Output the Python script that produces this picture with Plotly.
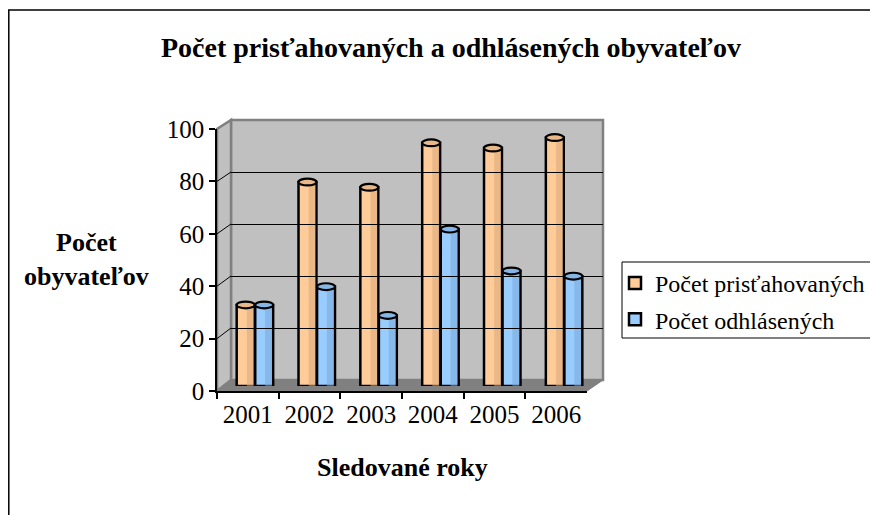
import plotly.graph_objects as go

# ---- data ----
years = ["2001", "2002", "2003", "2004", "2005", "2006"]
prist = [31, 78, 76, 93, 91, 95]
odhl = [31, 38, 27, 60, 44, 42]
y_ticks = [0, 20, 40, 60, 80, 100]
grid_vals = [20, 40, 60, 80]

title_txt = "Počet prisťahovaných a odhlásených obyvateľov"
ytitle_txt = "Počet<br>obyvateľov"
xtitle_txt = "Sledované roky"
name_a = "Počet prisťahovaných"
name_b = "Počet odhlásených"

W, H = 878, 515
OFF = 8          # page body margin
FONT = "Liberation Serif"

def px(x):
    return (x - OFF) / W

def py(y):
    return 1 - (y - OFF) / H

FX0, FX1, FY0, FY100 = 217, 587, 391, 129      # front plane
BX0, BX1, BY0, BY100 = 231, 603, 380, 120      # back wall
MX0, MX1, MY0, MY100 = 224, 595, 386, 124.5    # mid-depth (bars)
LX0, LY0, LY1 = 622, 262, 338                  # legend box

ORANGE, ORANGE_D, ORANGE_T = "#FFCC99", "#D9A678", "#E9B888"
BLUE, BLUE_D, BLUE_T = "#99CCFF", "#7AA8DA", "#86B6E6"

fig = go.Figure()

bw = 0.29
gap = 0.005
fig.add_trace(go.Bar(x=years, y=prist, name=name_a, offset=-bw - gap, width=bw,
                     marker=dict(color=ORANGE, line=dict(color="black", width=2.5)),
                     legendgroup="a", xaxis="x", yaxis="y"))
fig.add_trace(go.Bar(x=years, y=odhl, name=name_b, offset=gap, width=bw,
                     marker=dict(color=BLUE, line=dict(color="black", width=2.5)),
                     legendgroup="b", xaxis="x", yaxis="y"))
fig.add_trace(go.Bar(x=years, y=prist, offset=-bw * 0.45, width=bw * 0.38,
                     marker=dict(color=ORANGE_D, line=dict(width=0)), opacity=0.55,
                     showlegend=False, hoverinfo="skip", xaxis="x", yaxis="y"))
fig.add_trace(go.Bar(x=years, y=odhl, offset=gap + bw * 0.55, width=bw * 0.38,
                     marker=dict(color=BLUE_D, line=dict(width=0)), opacity=0.55,
                     showlegend=False, hoverinfo="skip", xaxis="x", yaxis="y"))
fig.add_trace(go.Scatter(x=years, y=prist, mode="markers", marker=dict(opacity=0),
                         showlegend=False, hoverinfo="skip", xaxis="x2", yaxis="y2"))
fig.add_trace(go.Scatter(x=years, y=prist, mode="markers", marker=dict(opacity=0),
                         showlegend=False, hoverinfo="skip", xaxis="x3", yaxis="y3"))

shapes = []
# chart border
shapes.append(dict(type="rect", xref="paper", yref="paper", x0=px(8.8), x1=px(905),
                   y0=py(10), y1=py(540), line=dict(color="black", width=1.5),
                   fillcolor="white", layer="below"))
# legend box (runs off the right edge, as in the original)
shapes.append(dict(type="rect", xref="paper", yref="paper", x0=px(LX0), x1=px(905),
                   y0=py(LY0), y1=py(LY1), line=dict(color="black", width=1),
                   fillcolor="white", layer="below"))
# back wall
shapes.append(dict(type="rect", xref="x3 domain", yref="y3 domain", x0=0, x1=1, y0=0, y1=1,
                   fillcolor="#C0C0C0", line=dict(color="#808080", width=2.5), layer="below"))
# left wall
shapes.append(dict(type="path", xref="paper", yref="paper",
                   path=f"M{px(FX0)},{py(FY0)} L{px(FX0)},{py(FY100)} L{px(BX0)},{py(BY100)} L{px(BX0)},{py(BY0)} Z",
                   fillcolor="#C0C0C0", line=dict(color="#808080", width=2.5), layer="below"))
# floor
shapes.append(dict(type="path", xref="paper", yref="paper",
                   path=f"M{px(FX0)},{py(FY0)} L{px(FX1)},{py(FY0)} L{px(BX1)},{py(BY0)} L{px(BX0)},{py(BY0)} Z",
                   fillcolor="#808080", line=dict(color="#808080", width=1), layer="below"))
# left-wall grid diagonals
for v in grid_vals:
    yf = FY0 + (FY100 - FY0) * v / 100
    yb = BY0 + (BY100 - BY0) * v / 100
    shapes.append(dict(type="line", xref="paper", yref="paper",
                       x0=px(FX0), y0=py(yf), x1=px(BX0), y1=py(yb),
                       line=dict(color="black", width=1)))
# cylinder tops (ellipses at each bar's value)
for i, (a, b) in enumerate(zip(prist, odhl)):
    shapes.append(dict(type="circle", xref="x", yref="y",
                       x0=i - bw - gap, x1=i - gap, y0=a - 1.3, y1=a + 1.3,
                       fillcolor=ORANGE_T, line=dict(color="black", width=2.2)))
    shapes.append(dict(type="circle", xref="x", yref="y",
                       x0=i + gap, x1=i + gap + bw, y0=b - 1.3, y1=b + 1.3,
                       fillcolor=BLUE_T, line=dict(color="black", width=2.2)))

fig.update_layout(
    template="none",
    width=W, height=H,
    autosize=False,
    margin=dict(l=0, r=0, t=0, b=0, pad=0, autoexpand=False),
    paper_bgcolor="white",
    plot_bgcolor="rgba(0,0,0,0)",
    barmode="overlay",
    font=dict(family=FONT, color="black"),
    showlegend=True,
    legend=dict(x=px(LX0 - 7), y=py(LY0 - 1), xanchor="left", yanchor="top",
                borderwidth=0, bgcolor="rgba(0,0,0,0)",
                font=dict(family=FONT, size=24), tracegroupgap=2,
                itemwidth=30),
    shapes=shapes,
    xaxis=dict(domain=[px(MX0), px(MX1)], type="category", visible=False,
               anchor="y", range=[-0.5, 5.5], automargin=False),
    yaxis=dict(domain=[py(MY0), py(MY100)], range=[0, 100], visible=False, anchor="x",
               automargin=False),
    xaxis2=dict(domain=[px(FX0), px(FX1)], type="category", anchor="y2", range=[-0.5, 5.5],
                showline=True, linecolor="black", linewidth=1.5, ticks="outside",
                tickson="boundaries", ticklen=6, tickcolor="black", tickwidth=1.5,
                showgrid=False, zeroline=False, automargin=False, tickangle=0,
                tickfont=dict(size=25, family=FONT)),
    yaxis2=dict(domain=[py(FY0), py(FY100)], range=[0, 100], anchor="x2",
                tickvals=y_ticks, showline=True, linecolor="black", linewidth=1.5,
                ticks="outside", ticklen=6, tickcolor="black", tickwidth=1.5,
                showgrid=False, zeroline=False, automargin=False,
                tickfont=dict(size=25, family=FONT)),
    xaxis3=dict(domain=[px(BX0), px(BX1)], type="category", anchor="y3", visible=False,
                range=[-0.5, 5.5], automargin=False),
    yaxis3=dict(domain=[py(BY0), py(BY100)], range=[0, 100], anchor="x3",
                tickvals=grid_vals, showticklabels=False, ticks="", showline=False,
                showgrid=True, gridcolor="black", gridwidth=1, zeroline=False,
                automargin=False),
    annotations=[
        dict(text=f"<b>{title_txt}</b>", xref="paper", yref="paper", x=px(451), y=py(48),
             showarrow=False, font=dict(size=28, family=FONT), xanchor="center", yanchor="middle"),
        dict(text=f"<b>{ytitle_txt}</b>", xref="paper", yref="paper", x=px(86), y=py(260),
             showarrow=False, font=dict(size=26, family=FONT), xanchor="center", yanchor="middle"),
        dict(text=f"<b>{xtitle_txt}</b>", xref="paper", yref="paper", x=px(402), y=py(467),
             showarrow=False, font=dict(size=26, family=FONT), xanchor="center", yanchor="middle"),
    ],
)

fig.write_html("out.html")
